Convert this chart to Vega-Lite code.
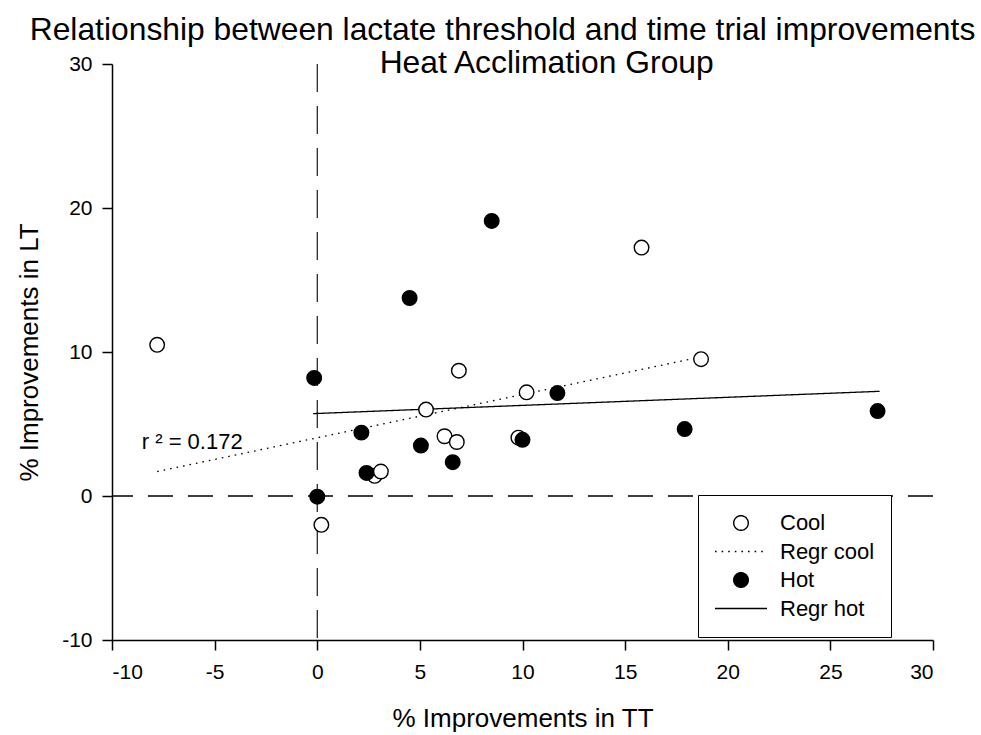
{
  "$schema": "https://vega.github.io/schema/vega-lite/v6.json",
  "width": 821,
  "height": 576,
  "autosize": {"type": "none"},
  "padding": {"left": 112, "top": 64, "right": 48, "bottom": 95},
  "background": "white",
  "config": {
    "view": {"stroke": null},
    "font": "Liberation Sans",
    "axis": {
      "grid": false,
      "domainColor": "black",
      "domainWidth": 1.5,
      "tickColor": "black",
      "tickWidth": 1.5,
      "tickSize": 10,
      "labelColor": "black",
      "labelFont": "Liberation Sans",
      "labelFontSize": 21,
      "labelExpr": "'' + datum.value",
      "titleColor": "black",
      "titleFont": "Liberation Sans",
      "titleFontSize": 26,
      "titleFontWeight": "normal"
    },
    "legend": {
      "orient": "none",
      "legendX": 586,
      "legendY": 431,
      "strokeColor": "black",
      "fillColor": "white",
      "padding": 16,
      "symbolSize": 2704,
      "symbolStrokeColor": "black",
      "symbolStrokeWidth": 1.4,
      "labelFont": "Liberation Sans",
      "labelFontSize": 22,
      "labelColor": "black",
      "labelOffset": 12,
      "clipHeight": 24,
      "rowPadding": 4.5
    }
  },
  "title": {
    "text": [
      "Relationship between lactate threshold and time trial improvements",
      "\u200b\u00a0\u00a0\u00a0\u00a0\u00a0\u00a0\u00a0\u00a0\u00a0\u00a0Heat Acclimation Group"
    ],
    "font": "Liberation Sans",
    "fontSize": 31.8,
    "fontWeight": "normal",
    "color": "black",
    "anchor": "middle",
    "frame": "group",
    "dx": -20,
    "lineHeight": 33,
    "offset": -27
  },
  "datasets": {
    "observations": [
      {"tt": -7.8, "lt": 10.5, "group": "Cool"},
      {"tt": 0.2, "lt": -2.0, "group": "Cool"},
      {"tt": 2.8, "lt": 1.4, "group": "Cool"},
      {"tt": -0.15, "lt": 8.2, "group": "Hot"},
      {"tt": 0.0, "lt": -0.05, "group": "Hot"},
      {"tt": 2.15, "lt": 4.4, "group": "Hot"},
      {"tt": 2.4, "lt": 1.6, "group": "Hot"},
      {"tt": 3.1, "lt": 1.7, "group": "Cool"},
      {"tt": 5.3, "lt": 6.0, "group": "Cool"},
      {"tt": 6.2, "lt": 4.15, "group": "Cool"},
      {"tt": 6.8, "lt": 3.75, "group": "Cool"},
      {"tt": 6.9, "lt": 8.7, "group": "Cool"},
      {"tt": 9.8, "lt": 4.05, "group": "Cool"},
      {"tt": 10.2, "lt": 7.2, "group": "Cool"},
      {"tt": 15.8, "lt": 17.25, "group": "Cool"},
      {"tt": 18.7, "lt": 9.5, "group": "Cool"},
      {"tt": 4.5, "lt": 13.75, "group": "Hot"},
      {"tt": 5.05, "lt": 3.5, "group": "Hot"},
      {"tt": 6.6, "lt": 2.35, "group": "Hot"},
      {"tt": 8.5, "lt": 19.1, "group": "Hot"},
      {"tt": 10.0, "lt": 3.9, "group": "Hot"},
      {"tt": 11.7, "lt": 7.15, "group": "Hot"},
      {"tt": 17.9, "lt": 4.65, "group": "Hot"},
      {"tt": 27.3, "lt": 5.9, "group": "Hot"}
    ],
    "fits": [
      {"tt": -7.8, "lt": 1.7, "group": "Regr cool"},
      {"tt": 18.7, "lt": 9.66, "group": "Regr cool"},
      {"tt": -0.2, "lt": 5.72, "group": "Regr hot"},
      {"tt": 27.4, "lt": 7.27, "group": "Regr hot"}
    ],
    "origin": [{"tt": 0, "lt": 0}],
    "notes": [{"tt": -8.55, "lt": 3.25, "note": "r ² = 0.172"}]
  },
  "layer": [
    {
      "data": {"name": "origin"},
      "mark": {"type": "rule", "color": "black", "strokeWidth": 1.3, "strokeDash": [25, 15]},
      "encoding": {
        "y": {"field": "lt", "type": "quantitative", "title": "% Improvements in LT", "scale": {"domain": [-10, 30], "nice": false}}
      }
    },
    {
      "data": {"name": "origin"},
      "mark": {"type": "rule", "color": "black", "strokeWidth": 1.1, "strokeDash": [28, 14]},
      "encoding": {
        "x": {"field": "tt", "type": "quantitative", "title": "% Improvements in TT", "scale": {"domain": [-10, 30], "nice": false}}
      }
    },
    {
      "data": {"name": "fits"},
      "mark": {"type": "line", "strokeWidth": 1.3},
      "encoding": {
        "x": {"field": "tt", "type": "quantitative", "title": "% Improvements in TT", "scale": {"domain": [-10, 30], "nice": false}},
        "y": {"field": "lt", "type": "quantitative", "title": "% Improvements in LT", "scale": {"domain": [-10, 30], "nice": false}},
        "stroke": {
          "field": "group",
          "type": "nominal",
          "scale": {
            "domain": ["Cool", "Regr cool", "Hot", "Regr hot"],
            "range": ["black", "black", "black", "black"]
          },
          "legend": {"title": null}
        },
        "strokeDash": {
          "field": "group",
          "type": "nominal",
          "scale": {
            "domain": ["Cool", "Regr cool", "Hot", "Regr hot"],
            "range": [[1, 0], [1.6, 5], [1, 0], [1, 0]]
          },
          "legend": {"title": null}
        }
      }
    },
    {
      "data": {"name": "observations"},
      "mark": {"type": "point", "filled": true, "strokeWidth": 1.4, "size": 2704, "opacity": 1},
      "encoding": {
        "x": {
          "field": "tt",
          "type": "quantitative",
          "title": "% Improvements in TT",
          "scale": {"domain": [-10, 30], "nice": false},
          "axis": {"values": [-10, -5, 0, 5, 10, 15, 20, 25, 30], "labelPadding": 11, "titlePadding": 23}
        },
        "y": {
          "field": "lt",
          "type": "quantitative",
          "title": "% Improvements in LT",
          "scale": {"domain": [-10, 30], "nice": false},
          "axis": {"values": [-10, 0, 10, 20, 30], "labelPadding": 10, "titlePadding": 19}
        },
        "shape": {
          "field": "group",
          "type": "nominal",
          "scale": {
            "domain": ["Cool", "Regr cool", "Hot", "Regr hot"],
            "range": [
              "M0.28,0A0.28,0.28,0,1,1,-0.28,0A0.28,0.28,0,1,1,0.28,0Z",
              "M-1,0H1",
              "M0.28,0A0.28,0.28,0,1,1,-0.28,0A0.28,0.28,0,1,1,0.28,0Z",
              "M-1,0H1"
            ]
          },
          "legend": {"title": null}
        },
        "fill": {
          "field": "group",
          "type": "nominal",
          "scale": {
            "domain": ["Cool", "Regr cool", "Hot", "Regr hot"],
            "range": ["white", "transparent", "black", "transparent"]
          },
          "legend": {"title": null}
        },
        "stroke": {
          "field": "group",
          "type": "nominal",
          "scale": {
            "domain": ["Cool", "Regr cool", "Hot", "Regr hot"],
            "range": ["black", "black", "black", "black"]
          },
          "legend": {"title": null}
        }
      }
    },
    {
      "data": {"name": "notes"},
      "mark": {"type": "text", "align": "left", "baseline": "alphabetic", "fontSize": 22, "font": "Liberation Sans", "color": "black"},
      "encoding": {
        "x": {"field": "tt", "type": "quantitative", "title": "% Improvements in TT", "scale": {"domain": [-10, 30], "nice": false}},
        "y": {"field": "lt", "type": "quantitative", "title": "% Improvements in LT", "scale": {"domain": [-10, 30], "nice": false}},
        "text": {"field": "note"}
      }
    }
  ]
}
